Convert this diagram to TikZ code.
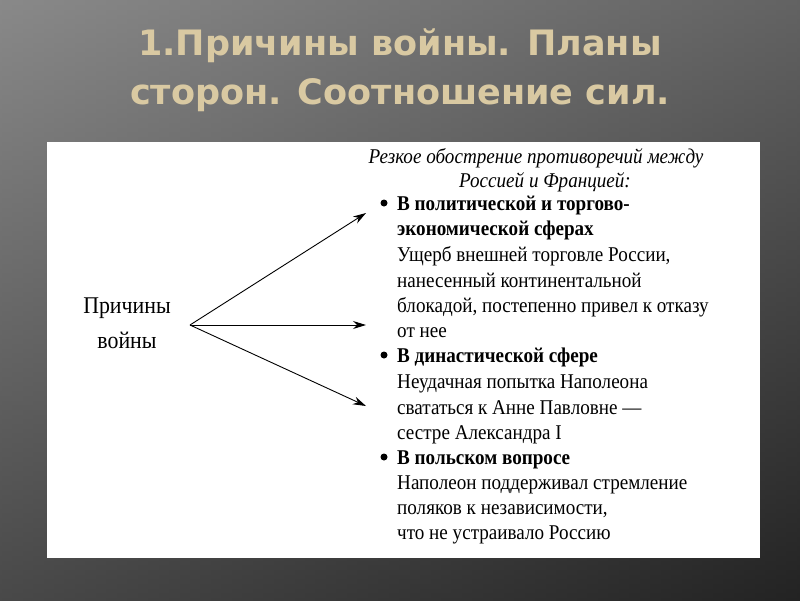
\documentclass[tikz,border=0pt]{standalone}
\usepackage{fontspec}
\setmainfont{Liberation Serif}
\newfontfamily\narrow[FakeStretch=0.91]{Liberation Serif}
\newfontfamily\titlefont{DejaVu Sans}
\definecolor{titlec}{HTML}{D9C9A2}
\tikzset{txt/.style={anchor=base west,inner sep=0pt,font=\narrow\fontsize{21}{21}\selectfont},
bul/.style={circle,fill=black,inner sep=0pt,minimum size=7pt},
arr/.style={-{Stealth[length=13pt,width=8pt]},line width=0.9pt},
ttl/.style={font=\titlefont\bfseries\fontsize{35}{36}\selectfont,text=titlec}}
\usetikzlibrary{arrows.meta}
\begin{document}
\begin{tikzpicture}[x=1pt,y=-1pt]
\useasboundingbox (0,0) rectangle (800,600);
\shade[left color=gray!75!black,right color=black!85!gray] (0,0) rectangle (800,600);
\shade[top color=white!40!gray,bottom color=black!80,opacity=0.5] (0,0) rectangle (800,600);
\node[ttl] (t1) at (400,46) {1.Причины войны. Планы};
\node[ttl] (t2) at (400,95) {сторон. Соотношение сил.};
\fill[white] (47,142) rectangle (760,558);
\node[font=\narrow\fontsize{24}{24}\selectfont] (p1) at (127,308) {Причины};
\node[font=\narrow\fontsize{24}{24}\selectfont] (p2) at (127,340) {войны};
\coordinate (o) at (190,325);
\coordinate (a1) at (366,213);
\coordinate (a2) at (366,325);
\coordinate (a3) at (366,406);
\draw[arr] (o) -- (a1);
\draw[arr] (o) -- (a2);
\draw[arr] (o) -- (a3);
\node[anchor=base,inner sep=0pt,font=\narrow\itshape\fontsize{21}{21}\selectfont] (h1) at (536,163) {Резкое обострение противоречий между};
\node[anchor=base,inner sep=0pt,font=\narrow\itshape\fontsize{21}{21}\selectfont] (h2) at (545,187) {Россией и Францией:};
\node[bul] (b1) at (384,203) {};
\node[bul] (b2) at (384,355) {};
\node[bul] (b3) at (384,457) {};
\node[txt,font=\narrow\bfseries\fontsize{21}{21}\selectfont] (l1) at (397,210) {В политической и торгово-};
\node[txt,font=\narrow\bfseries\fontsize{21}{21}\selectfont] (l2) at (397,235) {экономической сферах};
\node[txt] (l3) at (397,261) {Ущерб внешней торговле России,};
\node[txt] (l4) at (397,287) {нанесенный континентальной};
\node[txt] (l5) at (397,312) {блокадой, постепенно привел к отказу};
\node[txt] (l6) at (397,337) {от нее};
\node[txt,font=\narrow\bfseries\fontsize{21}{21}\selectfont] (l7) at (397,362) {В династической сфере};
\node[txt] (l8) at (397,388) {Неудачная попытка Наполеона};
\node[txt] (l9) at (397,414) {свататься к Анне Павловне —};
\node[txt] (l10) at (397,439) {сестре Александра I};
\node[txt,font=\narrow\bfseries\fontsize{21}{21}\selectfont] (l11) at (397,464) {В польском вопросе};
\node[txt] (l12) at (397,489) {Наполеон поддерживал стремление};
\node[txt] (l13) at (397,514) {поляков к независимости,};
\node[txt] (l14) at (397,539) {что не устраивало Россию};
\end{tikzpicture}
\end{document}
